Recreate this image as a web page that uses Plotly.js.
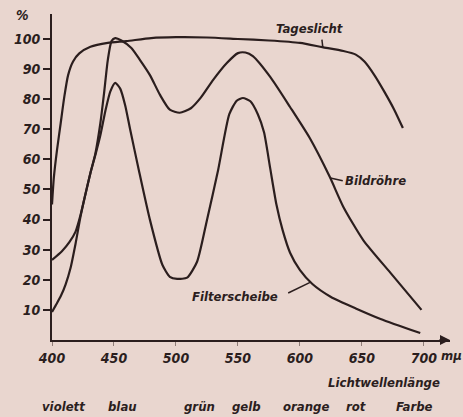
<!DOCTYPE html>
<html>
<head>
<meta charset="utf-8">
<script src="https://cdn.plot.ly/plotly-3.0.1.min.js"></script>
<style>html,body{margin:0;padding:0;background:#e9d6cf;}</style>
</head>
<body>
<div id="chart" style="width:463px;height:417px;"></div>
<script>
// ---- data ----
const tageslichtNm  = [400, 401.5, 404, 407, 410, 413, 417, 422, 431, 445, 460, 480, 500, 525, 550, 575, 600, 618, 635, 645, 652, 660, 668, 676, 683];
const tageslichtPct = [45, 54, 63, 72, 81, 88, 92.5, 95.2, 97.4, 98.7, 99.3, 100.3, 100.6, 100.5, 100, 99.5, 98.7, 97.3, 96, 94.8, 92.5, 88, 82.5, 76.5, 70.4];

const bildNm  = [400, 408, 414, 419, 423, 427, 431, 435, 439, 442, 445, 448, 451, 456, 464, 471, 479, 487, 495, 503, 512, 520, 530, 541, 550, 556, 562, 576, 592, 608, 624, 635, 651, 673, 698];
const bildPct = [26.6, 29.5, 32.5, 36, 41.5, 48.5, 55.5, 62, 72, 82, 93, 99.3, 100.3, 99.5, 97, 93, 88, 81.5, 76.5, 75.5, 77, 80.5, 86.4, 92, 95.3, 95.5, 94.3, 87.4, 77.4, 67, 54.2, 44.2, 33.2, 22.3, 10];

const filterNm  = [400, 403, 407, 411, 415, 419, 423, 427, 431, 435, 439, 443, 447, 451, 455, 459, 463, 470, 479, 489, 495, 501, 509, 517, 525, 534, 543, 549, 554, 560, 566, 571, 576, 581, 586, 592, 600, 610, 625, 645, 665, 697];
const filterPct = [9.3, 11.5, 14.5, 18.5, 24, 32, 41, 48.5, 55.5, 61.5, 68, 76, 82.5, 85.4, 83.5, 78, 70, 56.5, 39.9, 25, 21, 20.3, 20.7, 26, 39.9, 56.5, 75, 79.5, 80.4, 79.3, 75, 69, 57, 45, 36.5, 29, 23.2, 18.6, 14.3, 10.5, 7, 2.3];

const xTickVals = [400, 450, 500, 550, 600, 650, 700];
const xTickText = ['400', '450', '500', '550', '600', '650', '700'];
const yTickVals = [10, 20, 30, 40, 50, 60, 70, 80, 90, 100];
const yTickText = ['10', '20', '30', '40', '50', '60', '70', '80', '90', '100'];
const farbNamen = ['violett', 'blau', 'grün', 'gelb', 'orange', 'rot', 'Farbe'];
const curveLabels = ['Tageslicht', 'Bildröhre', 'Filterscheibe'];

// ---- styling / layout ----
const ink = '#2b1e1e';
const FONT = {family: 'DejaVu Sans Condensed, DejaVu Sans, sans-serif', size: 13, color: ink, style: 'italic', weight: 'bold'};
const TICKFONT = Object.assign({}, FONT, {size: 14});
const lineStyle = {color: ink, width: 2.2, shape: 'spline', smoothing: 0.6};

const traces = [
  {x: tageslichtNm, y: tageslichtPct, name: curveLabels[0]},
  {x: bildNm, y: bildPct, name: curveLabels[1]},
  {x: filterNm, y: filterPct, name: curveLabels[2]}
].map(t => Object.assign(t, {type: 'scatter', mode: 'lines', line: lineStyle, hoverinfo: 'skip', cliponaxis: false}));

// pixel -> paper helpers for text outside the plotting area
const px = v => (v - 52) / 398;
const py = v => (340 - v) / 326;
const farbPx = [63, 122, 199, 246, 306, 356, 414];

const txt = (o) => Object.assign({showarrow: false, xanchor: 'center', yanchor: 'middle', font: FONT}, o);
const annotations = [
  txt({xref: 'paper', yref: 'paper', x: px(22), y: py(15), text: '%', font: TICKFONT}),
  txt({x: 608, y: 103.6, text: curveLabels[0]}),
  txt({x: 634.7, y: 53.1, text: curveLabels[1], xanchor: 'left'}),
  txt({x: 547.6, y: 14.6, text: curveLabels[2]}),
  txt({xref: 'paper', yref: 'paper', x: px(439), y: py(355), xanchor: 'left', text: 'mµ', font: FONT}),
  txt({xref: 'paper', yref: 'paper', x: px(383.5), y: py(382), text: 'Lichtwellenlänge'}),
  {x: 721, y: 0, ax: -12, ay: 0, text: '', showarrow: true, arrowhead: 2, arrowsize: 1, arrowwidth: 2, arrowcolor: ink}
].concat(farbNamen.map((w, i) => txt({xref: 'paper', yref: 'paper', x: px(farbPx[i]), y: py(406), text: w})));

const shapes = [
  {type: 'line', x0: 617.7, y0: 99.8, x1: 618.4, y1: 97.3, line: {color: ink, width: 1.5}},
  {type: 'line', x0: 624.5, y0: 53.8, x1: 634.5, y1: 52.9, line: {color: ink, width: 1.5}},
  {type: 'line', x0: 590.5, y0: 15.6, x1: 609, y1: 19.3, line: {color: ink, width: 1.5}}
];

const layout = {
  width: 463, height: 417,
  margin: {l: 52, r: 13, t: 14, b: 77, pad: 0},
  paper_bgcolor: '#e9d6cf', plot_bgcolor: '#e9d6cf',
  showlegend: false,
  font: FONT,
  xaxis: {
    range: [400, 721], showgrid: false, zeroline: false,
    showline: true, linecolor: ink, linewidth: 2,
    tickmode: 'array', tickvals: xTickVals, ticktext: xTickText,
    ticks: 'outside', ticklen: 4, tickwidth: 1, tickcolor: '#8f7d78',
    tickfont: TICKFONT, fixedrange: true
  },
  yaxis: {
    range: [0, 108.3], showgrid: false, zeroline: false,
    showline: true, linecolor: ink, linewidth: 2,
    tickmode: 'array', tickvals: yTickVals, ticktext: yTickText,
    ticks: 'outside', ticklen: 7, tickwidth: 2, tickcolor: ink,
    tickfont: TICKFONT, fixedrange: true
  },
  annotations: annotations,
  shapes: shapes
};

Plotly.newPlot('chart', traces, layout, {displayModeBar: false, staticPlot: true});
</script>
</body>
</html>
